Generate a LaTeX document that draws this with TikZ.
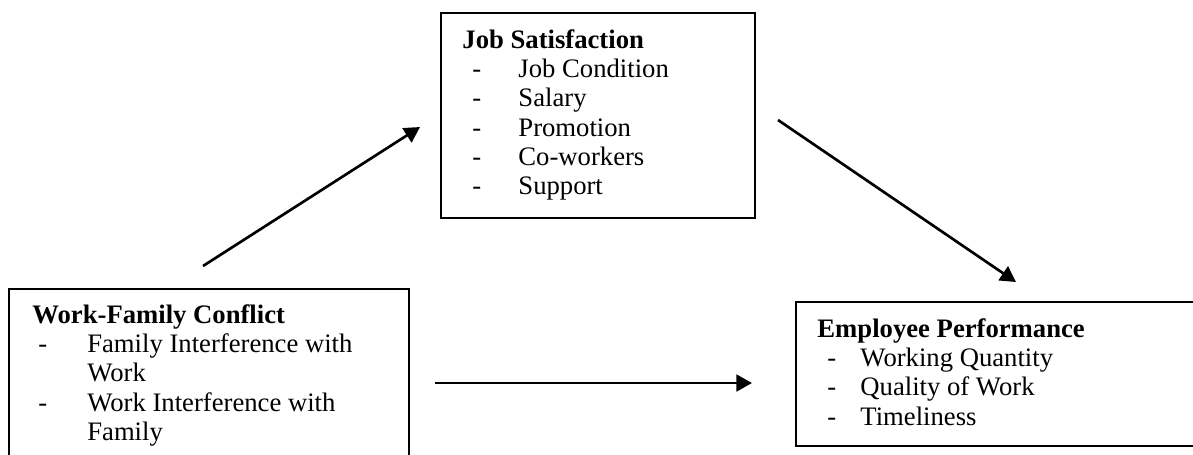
\documentclass[tikz,border=0pt]{standalone}
\usepackage{fontspec}
\setmainfont{Liberation Serif}
\usetikzlibrary{arrows.meta}
\tikzset{
	box/.style={draw, line width=0.8pt},
	list/.style={anchor=base west, inner sep=0pt, font=\fontsize{12}{13.2}\selectfont},
	link/.style={line width=1.2pt, -{Triangle[length=7pt,width=7.5pt]}}}

\begin{document}
\begin{tikzpicture}[x=0.45pt, y=-0.45pt]
\useasboundingbox (0,0) rectangle (1193,454);
\clip (0,0) rectangle (1193,454);
\draw[box] (441,13) rectangle (755,218); % job satisfaction
\draw[box] (9,289) rectangle (409,490); % work-family conflict
\draw[box] (796,302) rectangle (1230,446); % employee performance
\node[list] (js) at (462,48) {\begin{tabular}[t]{@{\hspace{4.5pt}}p{20.7pt}@{}l@{}}
	\multicolumn{2}{@{}l@{}}{\textbf{Job Satisfaction}}\\
	- & Job Condition\\
	- & Salary\\
	- & Promotion\\
	- & Co-workers\\
	- & Support
\end{tabular}};
\node[list] (wfc) at (32,323) {\begin{tabular}[t]{@{\hspace{2.7pt}}p{22pt}@{}l@{}}
	\multicolumn{2}{@{}l@{}}{\textbf{Work-Family Conflict}}\\
	- & Family Interference with\\
	  & Work\\
	- & Work Interference with\\
	  & Family
\end{tabular}};
\node[list] (ep) at (817,337) {\begin{tabular}[t]{@{\hspace{4.5pt}}p{14.85pt}@{}l@{}}
	\multicolumn{2}{@{}l@{}}{\textbf{Employee Performance}}\\
	- & Working Quantity\\
	- & Quality of Work\\
	- & Timeliness
\end{tabular}};
% free arrow ends
\coordinate (wfc-up) at (203,266);
\coordinate (js-in) at (420,127);
\coordinate (js-out) at (778,120);
\coordinate (ep-top) at (1016,282);
\coordinate (wfc-right) at (435,383);
\coordinate (ep-left) at (752,383);
\draw[link] (wfc-up) -- (js-in);
\draw[link] (js-out) -- (ep-top);
\draw[link] (wfc-right) -- (ep-left);
\end{tikzpicture}
\end{document}
